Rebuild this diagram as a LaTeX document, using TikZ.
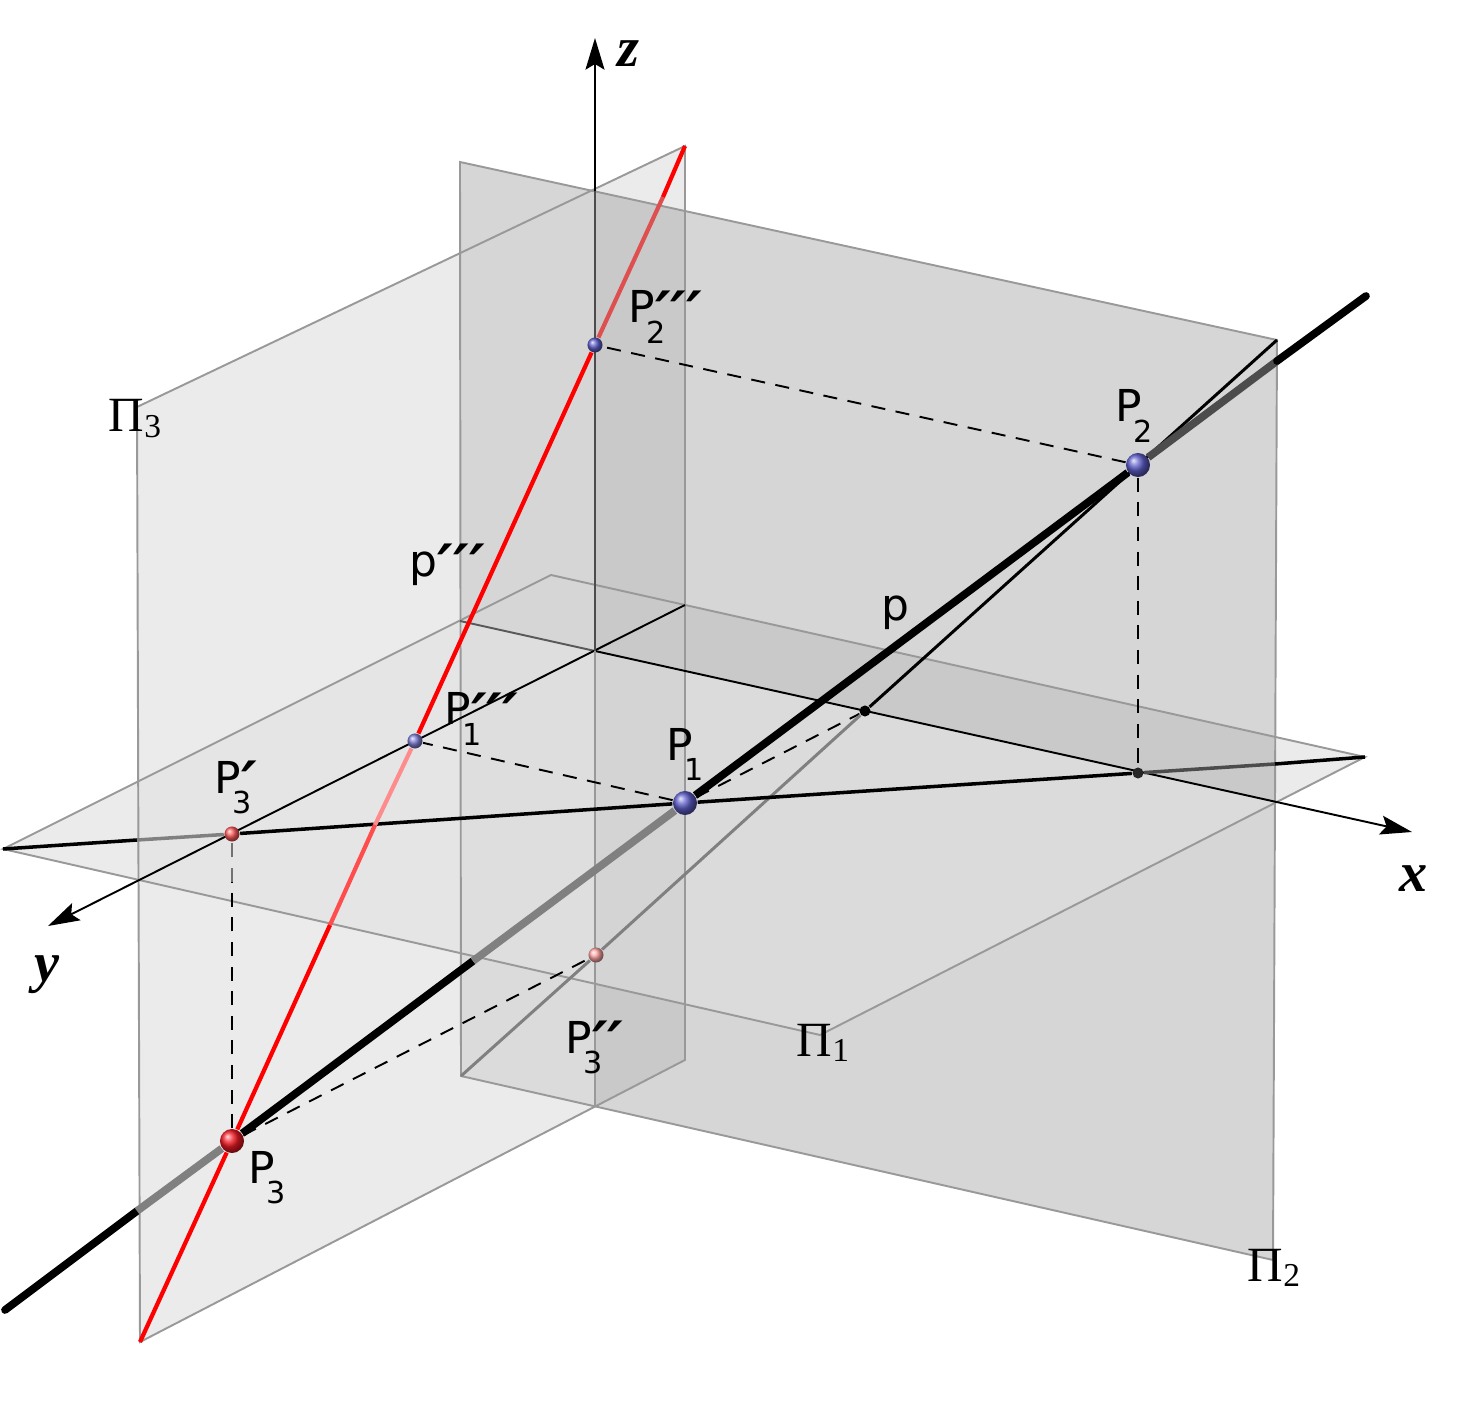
\documentclass[tikz,border=0pt]{standalone}
\usepackage{fontspec}
\setmainfont{DejaVu Sans}
\newfontfamily\planefont{Liberation Serif}
\usetikzlibrary{arrows.meta,shadings}
\pgfdeclarelayer{background}
\pgfsetlayers{background,main}
\definecolor{pointblue}{RGB}{95,95,205}
\definecolor{pointred}{RGB}{245,25,35}
\definecolor{edgegray}{gray}{0.6}
\definecolor{hiddengray}{gray}{0.5}
\definecolor{hiddenred}{RGB}{222,80,80}
\newcommand{\primes}[1]{\raisebox{-3.2pt}{\bfseries\itshape\fontsize{17}{17}\selectfont #1}}
\newcommand{\ptname}[2]{P\rlap{\kern-2.6pt\raisebox{-5.9pt}{\fontsize{8.6}{9}\selectfont #1}}\primes{#2}}
\newcommand{\planename}[1]{Π\raisebox{-1.6pt}{\fontsize{9.5}{9.5}\selectfont #1}}
\tikzset{
  bigpoint/.style={circle,inner sep=0pt,minimum size=24*0.2845pt},
  smallpoint/.style={circle,inner sep=0pt,minimum size=15*0.2845pt},
  blackpoint/.style={circle,inner sep=0pt,minimum size=11*0.2845pt,fill=black},
  ptlabel/.style={anchor=base west,inner sep=0pt,font=\fontsize{12.5}{15}\selectfont},
  planelabel/.style={anchor=base west,inner sep=0pt,font=\planefont\fontsize{14}{16}\selectfont},
  axislabel/.style={inner sep=0pt,font=\planefont\bfseries\itshape\fontsize{16}{18}\selectfont},
  axisline/.style={line width=0.55pt},
  axisarrow/.style={axisline,-{Stealth[length=9pt,width=5.4pt,inset=1.6pt]}},
  planeedge/.style={line width=0.55pt,edgegray},
  mainline/.style={line width=2.2pt},
  traceline/.style={line width=1pt},
  secondline/.style={line width=0.85pt},
  redline/.style={line width=1.2pt},
  recall/.style={line width=0.55pt,dash pattern=on 4pt off 3pt},
}
\begin{document}
\begin{tikzpicture}[x=0.01cm,y=-0.01cm]
    \useasboundingbox (0,0) rectangle (1462,1403);

    \coordinate (O) at (595,651);
    \coordinate (A1) at (3,849);
    \coordinate (A2) at (551,575);
    \coordinate (A3) at (1365,757);
    \coordinate (A4) at (820,1035);
    \coordinate (B1) at (460,162);
    \coordinate (B2) at (1277,340);
    \coordinate (B3) at (1273,1260);
    \coordinate (B4) at (461,1076);
    \coordinate (C1) at (685,146);
    \coordinate (C2) at (137,407);
    \coordinate (C3) at (140,1342);
    \coordinate (C4) at (685,1060);
    \coordinate (Xend) at (1412,832);
    \coordinate (Yend) at (48,926);
    \coordinate (Yback) at (685,605);
    \coordinate (Zend) at (595,38);
    \coordinate (Ztop) at (595,191);
    \coordinate (Zlow) at (595,1107);
    \coordinate (Xback) at (460,621);
    \coordinate (Dash) at (232,882);

    \node[bigpoint,ball color=pointblue] (P1) at (685,803) {};
    \node[bigpoint,ball color=pointblue] (P2) at (1138,465) {};
    \node[bigpoint,ball color=pointred] (P3) at (232,1141) {};
    \node[smallpoint,ball color=pointblue!80] (P1z) at (415,741) {};
    \node[smallpoint,ball color=pointblue] (P2z) at (595,345) {};
    \node[smallpoint,ball color=red!65] (P3x) at (232,834) {};
    \node[smallpoint,ball color=red!35] (P3y) at (596,955) {};
    \node[blackpoint] (Q1) at (865,711) {};
    \node[blackpoint,fill=black!85] (Q2) at (1138,773) {};

    \begin{pgfonlayer}{background}
        \fill[black!8] (A1) -- (A2) -- (A3) -- (A4) -- cycle;
        \fill[black!8] (C1) -- (C2) -- (C3) -- (C4) -- cycle;
        \fill[black!10] (137,782) -- (Xback) -- (460,953) -- (137,880) -- cycle;
        \fill[black!16] (B1) -- (B2) -- (B3) -- (B4) -- cycle;
        \fill[black!21] (Ztop) -- (685,211) -- (Yback) -- (O) -- cycle;
        \fill[black!21] (O) -- (Yback) -- (1275,737) -- (1275,802) -- cycle;
        \fill[black!21] (595,984) -- (685,1004) -- (C4) -- (Zlow) -- cycle;
        \fill[black!16] (Xback) -- (A2) -- (595,585) -- (O) -- cycle;
        \fill[black!13] (Xback) -- (O) -- (595,984) -- (460,953) -- cycle;
        \fill[black!14] (685,671) -- (1275,802) -- (A4) -- (685,1004) -- cycle;
        \fill[black!17] (O) -- (685,671) -- (685,1004) -- (595,984) -- cycle;
        \fill[black!14] (460,953) -- (595,984) -- (Zlow) -- (B4) -- cycle;

        \draw[planeedge] (A1) -- (A2) -- (A3) -- (A4) -- cycle;
        \draw[planeedge] (B1) -- (B2) -- (B3) -- (B4) -- cycle;
        \draw[planeedge] (C1) -- (C2) -- (C3) -- (C4) -- cycle;

        \draw[axisline,black!65] (Xback) -- (O);
        \draw[axisarrow] (O) -- (Xend);
        \draw[axisarrow] (Yback) -- (Yend);
        \draw[axisline,edgegray] (O) -- (Zlow);
        \draw[axisline,black!70] (O) -- (Ztop);
        \draw[axisarrow] (Ztop) -- (Zend);

        \draw[recall] (P3) -- (Dash);
        \draw[recall,black!55] (Dash) -- (P3x);
        \draw[recall] (P3) -- (P3y);
        \draw[recall] (P1) -- (P1z);
        \draw[recall] (P1) -- (Q1);
        \draw[recall] (P2) -- (P2z);
        \draw[recall] (P2) -- (Q2);

        \draw[secondline,hiddengray] (B4) -- (P3y);
        \draw[secondline,hiddengray] (P3y) -- (Q1);
        \draw[secondline] (Q1) -- (B2);

        \draw[traceline] (A1) -- (137,840);
        \draw[traceline,hiddengray] (137,840) -- (P3x);
        \draw[traceline] (P3x) -- (P1);
        \draw[traceline] (P1) -- (Q2);
        \draw[traceline,black!70] (Q2) -- (1275,764);
        \draw[traceline] (1275,764) -- (A3);

        \draw[redline,red] (C3) -- (P3);
        \draw[redline,red] (P3) -- (330,925);
        \draw[redline,red!70] (330,925) -- (375,825);
        \draw[redline,red!45] (375,825) -- (P1z);
        \draw[redline,red] (P1z) -- (P2z);
        \draw[redline,hiddenred] (P2z) -- (663,197);
        \draw[redline,red] (663,197) -- (C1);

        \draw[mainline,line cap=round] (5,1310) -- (137,1211);
        \draw[mainline,hiddengray] (137,1211) -- (P3);
        \draw[mainline] (P3) -- (473,961);
        \draw[mainline,hiddengray] (473,961) -- (P1);
        \draw[mainline] (P1) -- (P2);
        \draw[mainline,black!70] (P2) -- (1277,361);
        \draw[mainline,line cap=round] (1277,361) -- (1366,296);
    \end{pgfonlayer}

    \node[ptlabel] (lP1) at (666,760) {\ptname{1}{}};
    \node[ptlabel] (lP2) at (1115,422) {\ptname{2}{}};
    \node[ptlabel] (lP3) at (248,1183) {\ptname{3}{}};
    \node[ptlabel] (lP1z) at (444,725) {\ptname{1}{′′′}};
    \node[ptlabel] (lP2z) at (628,323) {\ptname{2}{′′′}};
    \node[ptlabel] (lP3x) at (214,793) {\ptname{3}{′}};
    \node[ptlabel] (lP3y) at (565,1053) {\ptname{3}{′′}};
    \node[ptlabel] (lp) at (881,620) {p};
    \node[ptlabel] (lpz) at (409,576) {p\primes{′′′}};

    \node[planelabel] (lPi3) at (108,432) {\planename{3}};
    \node[planelabel] (lPi1) at (796,1056) {\planename{1}};
    \node[planelabel] (lPi2) at (1247,1281) {\planename{2}};

    \node[axislabel] (lz) at (628,54) {z};
    \node[axislabel] (lx) at (1414,879) {x};
    \node[axislabel] (ly) at (47,975) {y};
\end{tikzpicture}
\end{document}
